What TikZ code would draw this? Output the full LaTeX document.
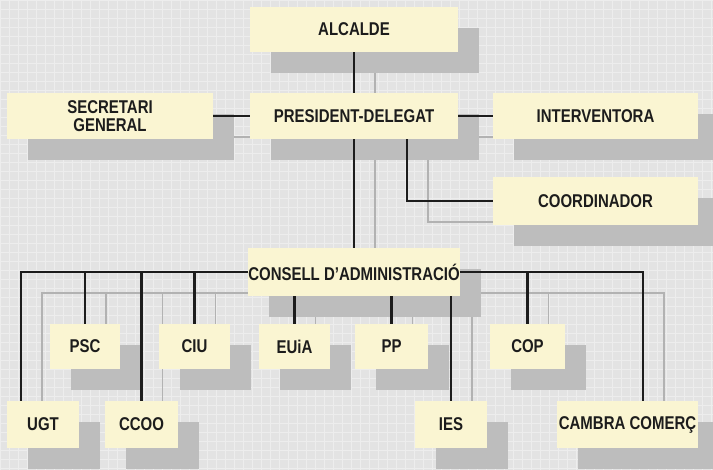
\documentclass[tikz,border=0pt]{standalone}
\usepackage{fontspec}
\setmainfont{Liberation Sans}[FakeStretch=0.81]
\usetikzlibrary{calc}
\pgfdeclarelayer{bg}
\pgfsetlayers{bg,main}
\definecolor{paper}{HTML}{E3E3E3}
\definecolor{paperlight}{HTML}{EDEDED}
\definecolor{cream}{HTML}{FAF5D2}
\definecolor{shadowgray}{HTML}{BDBDBD}
\definecolor{shline}{HTML}{B2B2B2}
\definecolor{ink}{HTML}{1C1C1C}
\newcommand\orgconn[1]{%
  \draw[#1] (alc.south) -- (pres.north);
  \draw[#1] (sec.east) -- (pres.west);
  \draw[#1] (pres.east) -- (int.west);
  \draw[#1] ([xshift=53pt]pres.south) |- (coord.west);
  \draw[#1] (pres.south) -- (cons.north);
  \draw[#1] (cons.west) -| ([xshift=-22pt]ugt.north);
  \draw[#1] (cons.east) -| ([xshift=15.5pt]cam.north);
  \draw[#1] (psc.north) -- (psc.north |- cons.west);
  \draw[#1] (ccoo.north) -- (ccoo.north |- cons.west);
  \draw[#1] (ciu.north) -- (ciu.north |- cons.west);
  \draw[#1] (cop.north) -- (cop.north |- cons.east);
  \draw[#1] (euia.north) -- (euia.north |- cons.south);
  \draw[#1] (pp.north) -- (pp.north |- cons.south);
  \draw[#1] (ies.north) -- (ies.north |- cons.south);
}
\begin{document}
\begin{tikzpicture}[x=1pt,y=-1pt,
  box/.style={fill=cream, draw=none, inner sep=0pt, text=ink, align=center,
    font=\bfseries\fontsize{18.5}{18}\selectfont},
  conn/.style={draw=ink, line width=2.6pt},
  shconn/.style={draw=shline, line width=1.6pt}]
\useasboundingbox (0,0) rectangle (713,470);
% boxes
\node[box, minimum width=208pt, minimum height=45pt] (alc) at (354,29.5) {ALCALDE};
\node[box, minimum width=208pt, minimum height=46pt] (pres) at (354,116) {PRESIDENT-DELEGAT};
\node[box, minimum width=206pt, minimum height=46pt] (sec) at (110,116) {SECRETARI\\GENERAL};
\node[box, minimum width=205pt, minimum height=46pt] (int) at (595.5,116) {INTERVENTORA};
\node[box, minimum width=205pt, minimum height=48pt] (coord) at (595.5,201) {COORDINADOR};
\node[box, minimum width=208pt, minimum height=48pt] (cons) at (354,272) {CONSELL D'ADMINISTRACIÓ};
\node[box, minimum width=70pt, minimum height=45pt] (psc) at (85,346.5) {PSC};
\node[box, minimum width=71pt, minimum height=45pt] (ciu) at (194.5,346.5) {CIU};
\node[box, minimum width=71pt, minimum height=45pt] (euia) at (294.5,346.5) {EUiA};
\node[box, minimum width=73pt, minimum height=45pt] (pp) at (391.5,346.5) {PP};
\node[box, minimum width=75pt, minimum height=45pt] (cop) at (527.5,346.5) {COP};
\node[box, minimum width=72pt, minimum height=47pt] (ugt) at (43,424.5) {UGT};
\node[box, minimum width=73pt, minimum height=47pt] (ccoo) at (141.5,424.5) {CCOO};
\node[box, minimum width=72pt, minimum height=47pt] (ies) at (451,424.5) {IES};
\node[box, minimum width=141pt, minimum height=47pt] (cam) at (627.5,424.5) {CAMBRA COMERÇ};
% background, shadows
\begin{pgfonlayer}{bg}
  \fill[paper] (0,0) rectangle (713,470);
  \draw[paperlight, line width=0.6pt] (0,0) grid[step=9pt] (713,470);
  \begin{scope}[transform canvas={shift={(21pt,-21pt)}}]
    \orgconn{shconn}
  \end{scope}
  \foreach \n in {alc,pres,sec,int,coord,cons,psc,ciu,euia,pp,cop,ugt,ccoo,ies,cam}{
    \fill[shadowgray] ([shift={(21pt,-21pt)}]\n.north west) rectangle ([shift={(21pt,-21pt)}]\n.south east);
  }
\end{pgfonlayer}
% connectors
\orgconn{conn}
\end{tikzpicture}
\end{document}
